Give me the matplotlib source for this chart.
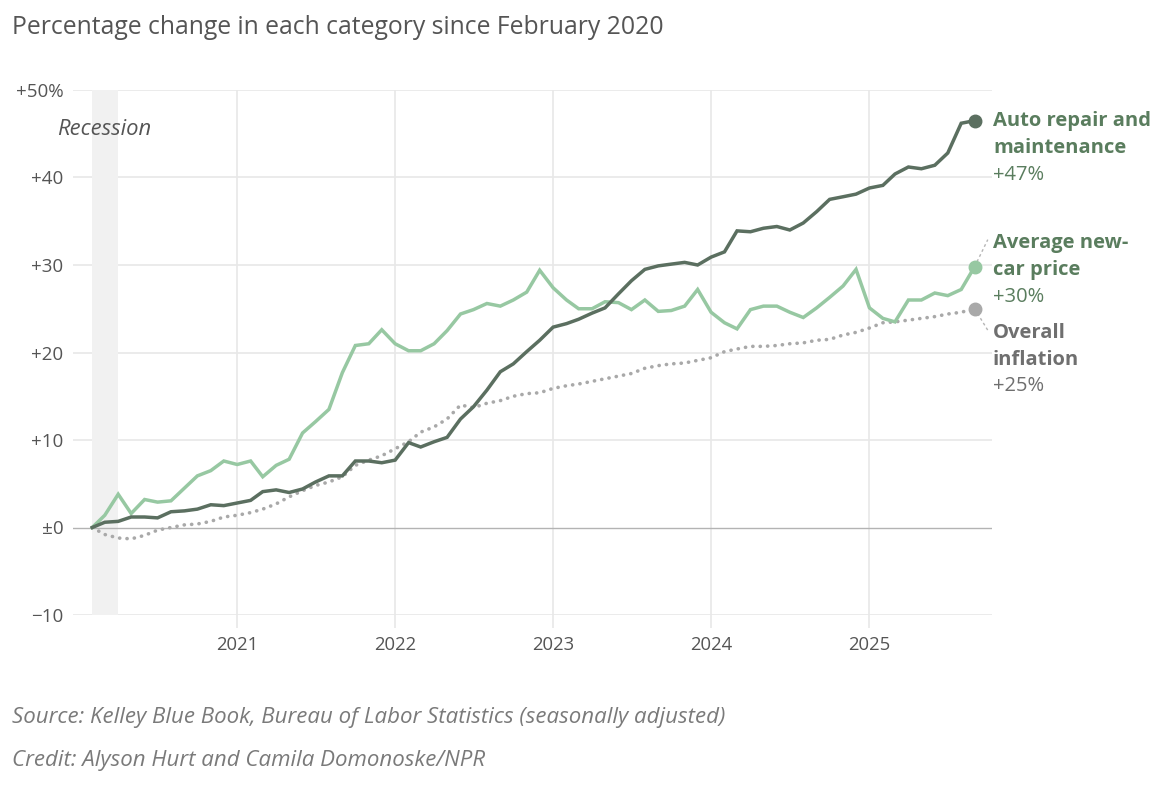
import matplotlib
matplotlib.use("Agg")
import matplotlib.pyplot as plt
import matplotlib.dates as mdates
import pandas as pd
import numpy as np

# ---- data (percent change since Feb 2020), monthly Feb 2020 - Sep 2025 ----
months = pd.date_range("2020-02-01", periods=68, freq="MS")

auto_repair = [
    0.0, 0.6, 0.7, 1.2, 1.2, 1.1, 1.8, 1.9, 2.1, 2.6, 2.5, 2.8,
    3.1, 4.1, 4.3, 4.0, 4.4, 5.2, 5.9, 5.9, 7.6, 7.6, 7.4, 7.7,
    9.7, 9.2, 9.8, 10.3, 12.4, 13.8, 15.7, 17.8, 18.7, 20.1, 21.4, 22.9,
    23.3, 23.8, 24.5, 25.1, 26.7, 28.2, 29.5, 29.9, 30.1, 30.3, 30.0, 30.9,
    31.5, 33.9, 33.8, 34.2, 34.4, 34.0, 34.8, 36.1, 37.5, 37.8, 38.1, 38.8,
    39.1, 40.4, 41.2, 41.0, 41.4, 42.8, 46.2, 46.5,
]

new_car = [
    0.0, 1.4, 3.8, 1.6, 3.2, 2.9, 3.05, 4.5, 5.9, 6.5, 7.6, 7.2,
    7.6, 5.8, 7.1, 7.8, 10.8, 12.1, 13.5, 17.7, 20.8, 21.0, 22.6, 21.0,
    20.2, 20.2, 21.0, 22.5, 24.4, 24.9, 25.6, 25.3, 26.0, 26.9, 29.4, 27.4,
    26.0, 25.0, 25.0, 25.8, 25.7, 24.9, 26.0, 24.7, 24.8, 25.3, 27.2, 24.6,
    23.4, 22.7, 24.9, 25.3, 25.3, 24.6, 24.0, 25.1, 26.3, 27.6, 29.5, 25.1,
    23.9, 23.5, 26.0, 26.0, 26.8, 26.5, 27.2, 29.8,
]

inflation = [
    0.0, -0.8, -1.2, -1.3, -0.9, -0.3, 0.0, 0.3, 0.4, 0.7, 1.2, 1.4,
    1.7, 2.1, 2.7, 3.5, 4.2, 4.8, 5.2, 5.8, 7.1, 7.7, 8.2, 9.0,
    9.8, 10.9, 11.5, 12.4, 14.0, 13.7, 14.2, 14.5, 15.0, 15.3, 15.4, 15.9,
    16.2, 16.4, 16.7, 17.0, 17.3, 17.6, 18.2, 18.5, 18.7, 18.8, 19.1, 19.4,
    20.1, 20.4, 20.7, 20.7, 20.8, 21.0, 21.1, 21.4, 21.5, 22.0, 22.3, 22.8,
    23.4, 23.5, 23.7, 23.9, 24.1, 24.4, 24.6, 25.0,
]

recession = (pd.Timestamp("2020-02-01"), pd.Timestamp("2020-04-01"))

y_ticks = [-10, 0, 10, 20, 30, 40, 50]
y_tick_labels = ["\u221210", "\u00b10", "+10", "+20", "+30", "+40", "+50%"]
x_ticks = pd.to_datetime(["2021-01-01", "2022-01-01", "2023-01-01", "2024-01-01", "2025-01-01"])
x_tick_labels = ["2021", "2022", "2023", "2024", "2025"]

# ---- style ----
FONT = "Open Sans"
plt.rcParams["font.family"] = [FONT, "DejaVu Sans"]
C_DARK = "#5b6f60"
C_LIGHT = "#97c8a2"
C_GRAY = "#a9a9a9"
C_TEXT = "#555555"
C_LAB_GREEN = "#5a7d5e"
C_LAB_GRAY = "#6f6f6f"

W, H = 1167, 805
fig = plt.figure(figsize=(W / 100, H / 100), dpi=100)
fig.patch.set_facecolor("white")

left_px, right_px, top_px, bot_px = 73, 992, 90, 615
ax = fig.add_axes([left_px / W, 1 - bot_px / H, (right_px - left_px) / W, (bot_px - top_px) / H])

x0 = mdates.date2num(months[0])
xn = mdates.date2num(months[-1])
ax.set_xlim(x0 - 1.46 * 30.44, xn + 1.32 * 30.44)
ax.set_ylim(-10, 50)

for s in ax.spines.values():
    s.set_visible(False)

# gridlines
for yv in y_ticks:
    if yv == 0:
        continue
    ax.axhline(yv, color="#e8e8e8", lw=1.2, zorder=0)
ax.axhline(0, color="#b3b3b3", lw=1.0, zorder=1)
for xv in x_ticks:
    ax.axvline(xv, color="#e8e8e8", lw=1.2, zorder=0)

ax.axvspan(recession[0], recession[1], ymin=0, ymax=1, color="#f1f1f1", lw=0, zorder=0)

ax.set_yticks(y_ticks)
ax.set_yticklabels(y_tick_labels)
ax.set_xticks(x_ticks)
ax.set_xticklabels(x_tick_labels)
ax.tick_params(axis="y", length=0, pad=7, labelsize=13.5, labelcolor=C_TEXT)
ax.tick_params(axis="x", length=9, width=1.2, color="#e8e8e8", pad=6, labelsize=13.3, labelcolor=C_TEXT)

# lines
ax.plot(months, inflation, color=C_GRAY, lw=2.6, linestyle=(0, (0.05, 2.0)),
        dash_capstyle="round", solid_capstyle="round", zorder=3)
ax.plot(months, new_car, color=C_LIGHT, lw=2.5, zorder=4, solid_joinstyle="miter")
ax.plot(months, auto_repair, color=C_DARK, lw=2.5, zorder=5, solid_joinstyle="miter")

ax.plot(months[-1], auto_repair[-1], "o", ms=9, color=C_DARK, zorder=6, clip_on=False)
ax.plot(months[-1], new_car[-1], "o", ms=9, color=C_LIGHT, zorder=6, clip_on=False)
ax.plot(months[-1], inflation[-1], "o", ms=9, color=C_GRAY, zorder=6, clip_on=False)

# leader lines (dotted) from end dots to labels
xe = mdates.date2num(months[-1])
ax.plot([xe, xe + 1.0 * 30.44], [new_car[-1], 32.9], color="#b5b5b5", lw=1, ls=(0, (2, 2)), clip_on=False)
ax.plot([xe, xe + 1.1 * 30.44], [inflation[-1], 22.3], color="#b5b5b5", lw=1, ls=(0, (2, 2)), clip_on=False)

# text in figure pixel coords
def ftext(xp, yp, s, **kw):
    fig.text(xp / W, 1 - yp / H, s, **kw)

ftext(57, 129, "Recession", style="italic", fontsize=15.8, color=C_TEXT, va="center")

lab_x = 993
LS = 14.5
ftext(lab_x, 121, "Auto repair and", fontsize=LS, fontweight="bold", color=C_LAB_GREEN, va="center")
ftext(lab_x, 148, "maintenance", fontsize=LS, fontweight="bold", color=C_LAB_GREEN, va="center")
ftext(lab_x, 175, "+47%", fontsize=LS, color=C_LAB_GREEN, va="center")

ftext(lab_x, 243, "Average new-", fontsize=LS, fontweight="bold", color=C_LAB_GREEN, va="center")
ftext(lab_x, 270, "car price", fontsize=LS, fontweight="bold", color=C_LAB_GREEN, va="center")
ftext(lab_x, 297, "+30%", fontsize=LS, color=C_LAB_GREEN, va="center")

ftext(lab_x, 333, "Overall", fontsize=LS, fontweight="bold", color=C_LAB_GRAY, va="center")
ftext(lab_x, 360, "inflation", fontsize=LS, fontweight="bold", color=C_LAB_GRAY, va="center")
ftext(lab_x, 386, "+25%", fontsize=LS, color=C_LAB_GRAY, va="center")

# title and footer
ftext(12, 28, "Percentage change in each category since February 2020", fontsize=17.8,
      color=C_TEXT, va="center")
ftext(12, 717, "Source: Kelley Blue Book, Bureau of Labor Statistics (seasonally adjusted)",
      fontsize=16, style="italic", color="#7a7a7a", va="center")
ftext(12, 760, "Credit: Alyson Hurt and Camila Domonoske/NPR",
      fontsize=16, style="italic", color="#7a7a7a", va="center")

fig.savefig("out.png", dpi=100, facecolor="white")
